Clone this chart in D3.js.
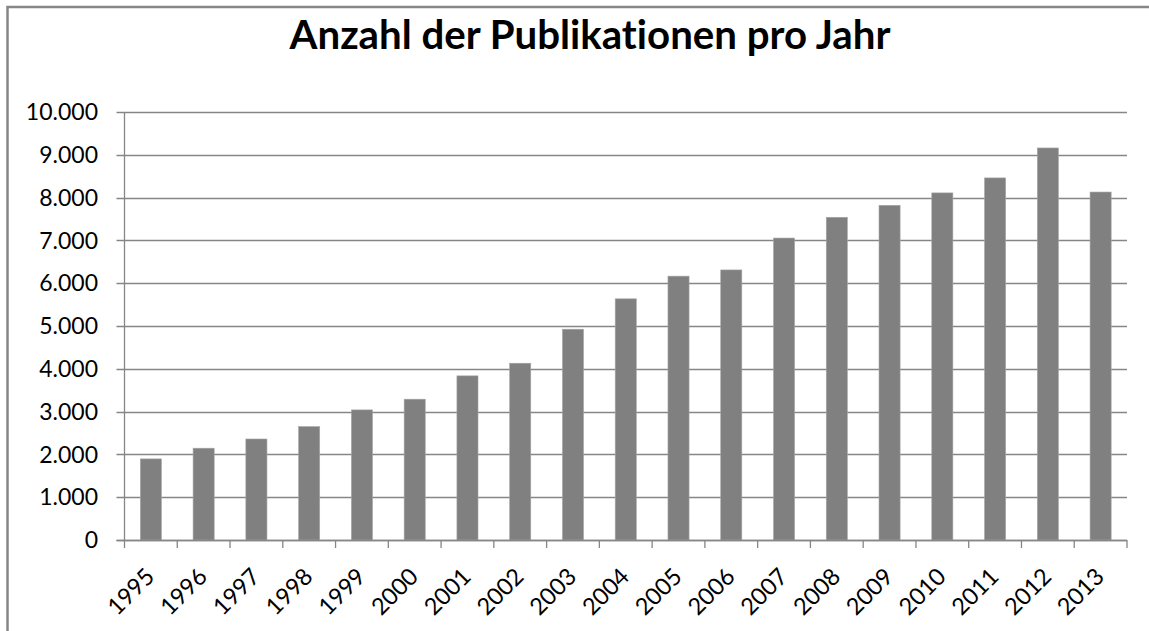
<!DOCTYPE html>
<html>
<head>
<meta charset="utf-8">
<script src="https://cdn.jsdelivr.net/npm/d3@7"></script>
<style>
  body { margin: 0; background: #fff; }
  text { font-family: Lato, "Open Sans", sans-serif; fill: #000; font-variant-ligatures: none; }
</style>
</head>
<body>
<svg width="1149" height="631"></svg>
<script>
// data
var years = ["1995","1996","1997","1998","1999","2000","2001","2002","2003","2004",
             "2005","2006","2007","2008","2009","2010","2011","2012","2013"];
var counts = [1895, 2145, 2360, 2650, 3040, 3290, 3835, 4130, 4925, 5635,
              6165, 6310, 7055, 7540, 7820, 8110, 8460, 9160, 8130];
var yTicks = [0, 1000, 2000, 3000, 4000, 5000, 6000, 7000, 8000, 9000, 10000];
var title = "Anzahl der Publikationen pro Jahr";

var svg = d3.select("svg");
var gridColor = "#868686";

// outer frame (only top and left edge are visible in the picture)
svg.append("rect")
  .attr("x", 7.5).attr("y", 7)
  .attr("width", 1200).attr("height", 700)
  .attr("fill", "none")
  .attr("stroke", gridColor)
  .attr("stroke-width", 2.5);

var plotL = 124.5, plotR = 1127, plotT = 112, plotB = 540;

var x = d3.scaleBand()
  .domain(years)
  .range([plotL, plotR])
  .paddingInner(0.6)
  .paddingOuter(0.3);

var y = d3.scaleLinear()
  .domain([0, 10000])
  .range([plotB, plotT]);

var fmt = function(d) { return d3.format(",")(d).replace(/,/g, "."); };

// gridlines + y ticks
svg.append("g")
  .selectAll("line")
  .data(yTicks)
  .enter()
  .append("line")
  .attr("x1", plotL - 8).attr("x2", plotR)
  .attr("y1", function(d) { return Math.round(y(d)) + 0.5; })
  .attr("y2", function(d) { return Math.round(y(d)) + 0.5; })
  .attr("stroke", gridColor)
  .attr("stroke-width", 1.3);

svg.append("g")
  .selectAll("text")
  .data(yTicks)
  .enter()
  .append("text")
  .attr("x", 98)
  .attr("y", function(d) { return y(d); })
  .attr("dy", "0.36em")
  .attr("text-anchor", "end")
  .style("font-size", "23px")
  .text(fmt);

// bars
svg.append("g")
  .selectAll("rect")
  .data(counts)
  .enter()
  .append("rect")
  .attr("x", function(d, i) { return x(years[i]); })
  .attr("y", function(d) { return y(d); })
  .attr("width", x.bandwidth())
  .attr("height", function(d) { return plotB - y(d); })
  .attr("fill", "#808080")
  .attr("stroke", "#a6a6a6")
  .attr("stroke-width", 0.6);

// y axis line
svg.append("line")
  .attr("x1", plotL).attr("x2", plotL)
  .attr("y1", plotT).attr("y2", plotB)
  .attr("stroke", gridColor)
  .attr("stroke-width", 1.3);

// x axis line + ticks between categories
svg.append("line")
  .attr("x1", plotL - 8).attr("x2", plotR)
  .attr("y1", plotB + 0.5).attr("y2", plotB + 0.5)
  .attr("stroke", gridColor)
  .attr("stroke-width", 1.3);

var bounds = d3.range(years.length + 1);
svg.append("g")
  .selectAll("line")
  .data(bounds)
  .enter()
  .append("line")
  .attr("x1", function(i) { return plotL + i * (plotR - plotL) / years.length; })
  .attr("x2", function(i) { return plotL + i * (plotR - plotL) / years.length; })
  .attr("y1", plotB).attr("y2", plotB + 8)
  .attr("stroke", gridColor)
  .attr("stroke-width", 1.3);

// x labels, rotated
svg.append("g")
  .selectAll("text")
  .data(years)
  .enter()
  .append("text")
  .attr("transform", function(d) {
    var cx = x(d) + x.bandwidth() / 2;
    return "translate(" + (cx + 5) + "," + (plotB + 38) + ") rotate(-45)";
  })
  .attr("text-anchor", "end")
  .style("font-size", "23.5px")
  .text(function(d) { return d; });

// title, sized to the reference width
var t = svg.append("text")
  .attr("x", 590)
  .attr("y", 49)
  .attr("text-anchor", "middle")
  .style("font-weight", "bold")
  .style("font-size", "40px")
  .text(title);
var w = t.node().getComputedTextLength();
t.style("font-size", (40 * 601 / w) + "px");
</script>
</body>
</html>
